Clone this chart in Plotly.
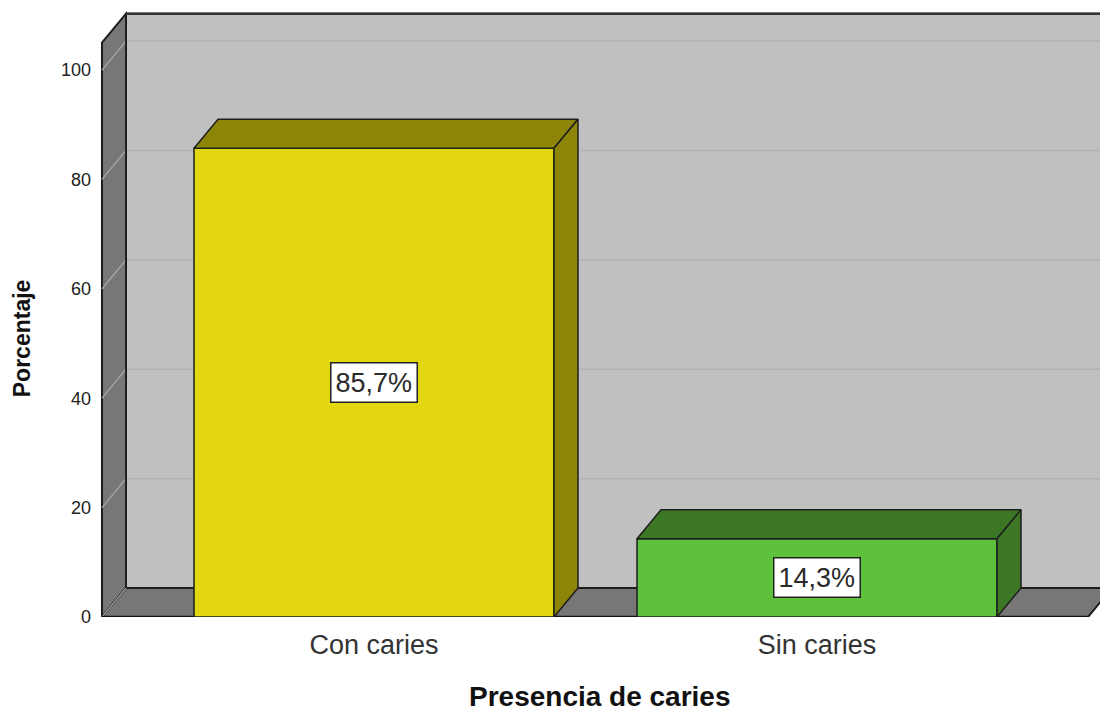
import plotly.graph_objects as go

categorias = ["Con caries", "Sin caries"]
porcentajes = [85.7, 14.3]
colores_frente = ["#e3d70f", "#5ec13b"]
colores_lado = ["#8c8508", "#3b7725"]
ticks_y = [0, 20, 40, 60, 80, 100]

# geometria de la caja 3D (unidades de datos)
xs = list(range(len(categorias)))
ancho = 0.8126
dx, dy = 0.0542, 5.3
x0 = -0.614
x_suelo = 1.6117
x_fin = 1.75
y_tope = 105

borde = "#1e1e1e"
gris_pared = "#c0c0c0"
gris_lado = "#777777"

shapes = []


def poly(pts, fill, color=borde, width=1.5):
    path = "M " + " L ".join(f"{px},{py}" for px, py in pts) + " Z"
    return dict(type="path", path=path, xref="x", yref="y", fillcolor=fill,
                line=dict(color=color, width=width), layer="below")


def linea(xa, ya, xb, yb, color, width):
    return dict(type="line", x0=xa, y0=ya, x1=xb, y1=yb, xref="x", yref="y",
                line=dict(color=color, width=width), layer="below")


# pared del fondo, pared izquierda y suelo
shapes.append(poly([(x0 + dx, dy), (x_fin, dy), (x_fin, y_tope + dy), (x0 + dx, y_tope + dy)],
                   gris_pared, width=2))
shapes.append(poly([(x0, 0), (x0, y_tope), (x0 + dx, y_tope + dy), (x0 + dx, dy)],
                   gris_lado, width=2))
shapes.append(poly([(x0, 0), (x_suelo, 0), (x_suelo + dx, dy), (x0 + dx, dy)],
                   gris_lado, width=2))

# lineas de cuadricula
for t in ticks_y:
    if t > 0:
        shapes.append(linea(x0 + dx, t + dy, x_fin, t + dy, "#b2b2b2", 1.5))
    shapes.append(linea(x0, t, x0 + dx, t + dy, "#ababab", 1.2))

# bordes oscuros
shapes.append(linea(x0, 0, x_suelo, 0, "#111111", 2.5))
shapes.append(linea(x0 + dx, dy, x0 + dx, y_tope + dy, borde, 2))
shapes.append(linea(x0 + dx, y_tope + dy, x_fin, y_tope + dy, "#333333", 2.5))

fig = go.Figure()

fig.add_trace(go.Bar(
    x=xs, y=porcentajes, width=ancho,
    marker=dict(color=colores_frente, line=dict(color=borde, width=1.5)),
    hoverinfo="skip",
))

for xi, v, c in zip(xs, porcentajes, colores_lado):
    izq, der = xi - ancho / 2, xi + ancho / 2
    # cara superior
    fig.add_trace(go.Scatter(
        x=[izq, der, der + dx, izq + dx, izq],
        y=[v, v, v + dy, v + dy, v],
        fill="toself", fillcolor=c, mode="lines",
        line=dict(color=borde, width=1.5), hoverinfo="skip",
    ))
    # cara lateral
    fig.add_trace(go.Scatter(
        x=[der, der, der + dx, der + dx, der],
        y=[0, v, v + dy, dy, 0],
        fill="toself", fillcolor=c, mode="lines",
        line=dict(color=borde, width=1.5), hoverinfo="skip",
    ))

anotaciones = []
for xi, v in zip(xs, porcentajes):
    anotaciones.append(dict(
        x=xi, y=v / 2, xref="x", yref="y", showarrow=False,
        text=f"{v:.1f}%".replace(".", ","),
        font=dict(size=27, color="#2a2a2a"),
        bgcolor="white", bordercolor="#222222", borderwidth=1.5, borderpad=4,
    ))

anotaciones.append(dict(
    x=-0.078, y=0.46, xref="paper", yref="paper", showarrow=False,
    xanchor="center", yanchor="middle",
    text="<b>Porcentaje</b>", textangle=-90,
    font=dict(size=23, color="#111111"),
))
anotaciones.append(dict(
    x=0.5, y=-0.132, xref="paper", yref="paper", showarrow=False,
    xanchor="center", yanchor="middle",
    text="<b>Presencia de caries</b>",
    font=dict(size=28, color="#111111"),
))

fig.update_layout(
    width=1100, height=712,
    margin=dict(l=100, r=0, t=11, b=95),
    paper_bgcolor="white", plot_bgcolor="white",
    font=dict(family="Liberation Sans, Arial, sans-serif", color="#222222"),
    showlegend=False,
    hovermode=False,
    shapes=shapes,
    annotations=anotaciones,
    xaxis=dict(
        range=[-0.6185, 1.6388], tickvals=xs, ticktext=categorias,
        showgrid=False, zeroline=False, showline=False, ticks="",
        tickfont=dict(size=27, color="#333333"), ticklabelstandoff=9,
    ),
    yaxis=dict(
        range=[0, 110.8], tickvals=ticks_y,
        showgrid=False, zeroline=False, showline=False, ticks="",
        tickfont=dict(size=18, color="#222222"), ticklabelstandoff=8,
    ),
)

fig.write_html("out.html", config={"displayModeBar": False},
               post_script="document.body.style.margin='0px';")
